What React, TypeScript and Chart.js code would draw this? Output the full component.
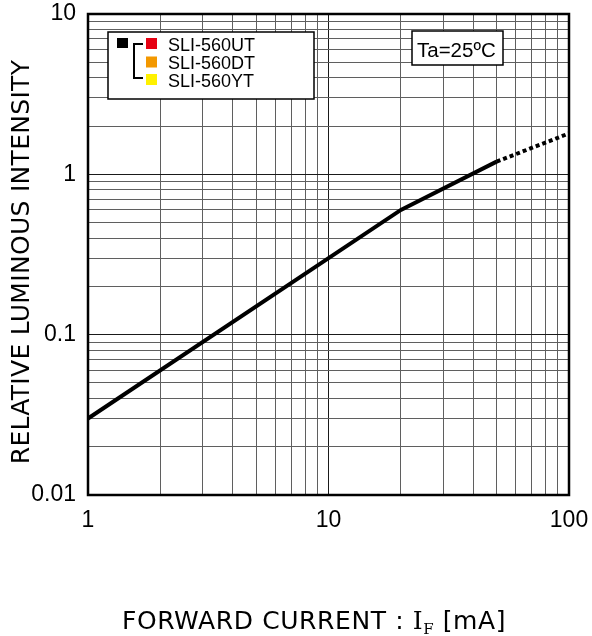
import React, { useEffect, useRef } from "react";
import { Chart, registerables } from "chart.js";

Chart.register(...registerables);

// ---- data ----
const xGridValues = [1, 2, 3, 4, 5, 6, 7, 8, 9, 10, 20, 30, 40, 50, 60, 70, 80, 90, 100];
const yGridValues = [
  0.01, 0.02, 0.03, 0.04, 0.05, 0.06, 0.07, 0.08, 0.09,
  0.1, 0.2, 0.3, 0.4, 0.5, 0.6, 0.7, 0.8, 0.9,
  1, 2, 3, 4, 5, 6, 7, 8, 9, 10,
];
const xTickLabels = [1, 10, 100];
const yTickLabels = [0.01, 0.1, 1, 10];

const solidCurrent = [1, 20, 50];
const solidIntensity = [0.03, 0.6, 1.2];
const dottedCurrent = [50, 100];
const dottedIntensity = [1.2, 1.8];

const seriesNames = ["SLI-560UT", "SLI-560DT", "SLI-560YT"];
const seriesColors = ["#e60012", "#f39800", "#fff100"];
const conditionLabel = "Ta=25ºC";
const yTitle = "RELATIVE LUMINOUS INTENSITY";

const isLabel = (v: number, list: number[]) => list.some((l) => Math.abs(l - v) / l < 1e-6);

const overlayPlugin = {
  id: "overlay",
  afterDraw(chart: any) {
    const ctx = chart.ctx as CanvasRenderingContext2D;
    const a = chart.chartArea;
    ctx.save();
    // frame
    ctx.strokeStyle = "#000";
    ctx.lineWidth = 2.5;
    ctx.strokeRect(a.left, a.top, a.right - a.left, a.bottom - a.top);

    // legend box
    ctx.fillStyle = "#fff";
    ctx.fillRect(108, 32, 206, 67);
    ctx.lineWidth = 1.5;
    ctx.strokeRect(108, 32, 206, 67);
    ctx.fillStyle = "#000";
    ctx.fillRect(117, 38, 11, 10);
    // bracket
    ctx.lineWidth = 2;
    ctx.beginPath();
    ctx.moveTo(143, 44);
    ctx.lineTo(134, 44);
    ctx.lineTo(134, 78);
    ctx.lineTo(143, 78);
    ctx.stroke();
    ctx.font = "18px 'Liberation Sans', Arial, sans-serif";
    ctx.textBaseline = "alphabetic";
    ctx.textAlign = "left";
    const rowsY = [38, 56.5, 74];
    seriesNames.forEach((n, i) => {
      ctx.fillStyle = seriesColors[i];
      ctx.fillRect(146, rowsY[i], 11, 11);
      ctx.fillStyle = "#000";
      ctx.fillText(n, 168, rowsY[i] + 12.5);
    });

    // condition box
    ctx.fillStyle = "#fff";
    ctx.fillRect(412, 31, 91, 34);
    ctx.lineWidth = 1.5;
    ctx.strokeStyle = "#000";
    ctx.strokeRect(412, 31, 91, 34);
    ctx.fillStyle = "#000";
    ctx.font = "20.5px 'Liberation Sans', Arial, sans-serif";
    ctx.fillText(conditionLabel, 417, 56.5);

    // y title
    ctx.save();
    ctx.translate(22, 262);
    ctx.rotate(-Math.PI / 2);
    ctx.textAlign = "center";
    ctx.textBaseline = "middle";
    ctx.font = "25px 'DejaVu Sans', Verdana, sans-serif";
    (ctx as any).letterSpacing = "0.3px";
    ctx.fillText(yTitle, 0, 0);
    ctx.restore();

    // x title: FORWARD CURRENT : I_F [mA]
    (ctx as any).letterSpacing = "0.6px";
    const sans = "25px 'DejaVu Sans', Verdana, sans-serif";
    const serif = "25px 'DejaVu Serif', serif";
    const sub = "15px 'DejaVu Serif', serif";
    const parts = [
      { t: "FORWARD CURRENT : ", f: sans, dy: 0 },
      { t: "I", f: serif, dy: 0 },
      { t: "F", f: sub, dy: 5 },
      { t: " [mA]", f: sans, dy: 0 },
    ];
    let total = 0;
    parts.forEach((p) => {
      ctx.font = p.f;
      total += ctx.measureText(p.t).width;
    });
    let x = 314 - total / 2;
    const base = 629;
    ctx.textAlign = "left";
    ctx.textBaseline = "alphabetic";
    parts.forEach((p) => {
      ctx.font = p.f;
      ctx.fillText(p.t, x, base + p.dy);
      x += ctx.measureText(p.t).width;
    });
    ctx.restore();
  },
};

export default function App() {
  const ref = useRef<HTMLCanvasElement | null>(null);
  useEffect(() => {
    if (!ref.current) return;
    const gridColor = (ctx: any) => {
      const v = ctx.tick ? ctx.tick.value : 0;
      const lg = Math.log10(v);
      return Math.abs(lg - Math.round(lg)) < 1e-6 ? "#1a1a1a" : "#5f5f5f";
    };
    const noPad = (s: any) => {
      s.paddingLeft = 0;
      s.paddingRight = 0;
      s.paddingTop = 0;
      s.paddingBottom = 0;
    };
    const chart = new Chart(ref.current, {
      type: "line",
      data: {
        datasets: [
          {
            data: solidCurrent.map((x, i) => ({ x, y: solidIntensity[i] })),
            borderColor: "#000",
            borderWidth: 4,
            pointRadius: 0,
            fill: false,
          },
          {
            data: dottedCurrent.map((x, i) => ({ x, y: dottedIntensity[i] })),
            borderColor: "#000",
            borderWidth: 4,
            borderDash: [4, 3],
            borderCapStyle: "butt",
            pointRadius: 0,
            fill: false,
          },
        ],
      },
      plugins: [overlayPlugin],
      options: {
        animation: false,
        responsive: false,
        devicePixelRatio: 1,
        layout: { padding: { left: 0, top: 14, right: 23, bottom: 0 } },
        plugins: { legend: { display: false }, tooltip: { enabled: false } },
        scales: {
          x: {
            type: "logarithmic",
            min: 1,
            max: 100,
            afterBuildTicks: (s: any) => {
              s.ticks = xGridValues.map((v) => ({ value: v }));
            },
            afterFit: (s: any) => {
              s.height = 141;
              noPad(s);
            },
            ticks: {
              autoSkip: false,
              maxRotation: 0,
              padding: 12,
              color: "#000",
              font: { family: "'Liberation Sans', Arial, sans-serif", size: 23 },
              callback: (v: any) => (isLabel(Number(v), xTickLabels) ? String(v) : ""),
            },
            grid: { color: gridColor, lineWidth: 1, drawTicks: false },
            border: { display: false },
          },
          y: {
            type: "logarithmic",
            min: 0.01,
            max: 10,
            afterBuildTicks: (s: any) => {
              s.ticks = yGridValues.map((v) => ({ value: v }));
            },
            afterFit: (s: any) => {
              s.width = 88;
              noPad(s);
            },
            ticks: {
              autoSkip: false,
              padding: 12,
              color: "#000",
              font: { family: "'Liberation Sans', Arial, sans-serif", size: 23 },
              callback: (v: any) => (isLabel(Number(v), yTickLabels) ? String(v) : ""),
            },
            grid: { color: gridColor, lineWidth: 1, drawTicks: false },
            border: { display: false },
          },
        },
      },
    } as any);
    return () => chart.destroy();
  }, []);
  return (
    <div style={{ position: "absolute", left: 0, top: 0, width: 592, height: 636, background: "#fff" }}>
      <canvas ref={ref} width={592} height={636} style={{ display: "block" }} />
    </div>
  );
}
